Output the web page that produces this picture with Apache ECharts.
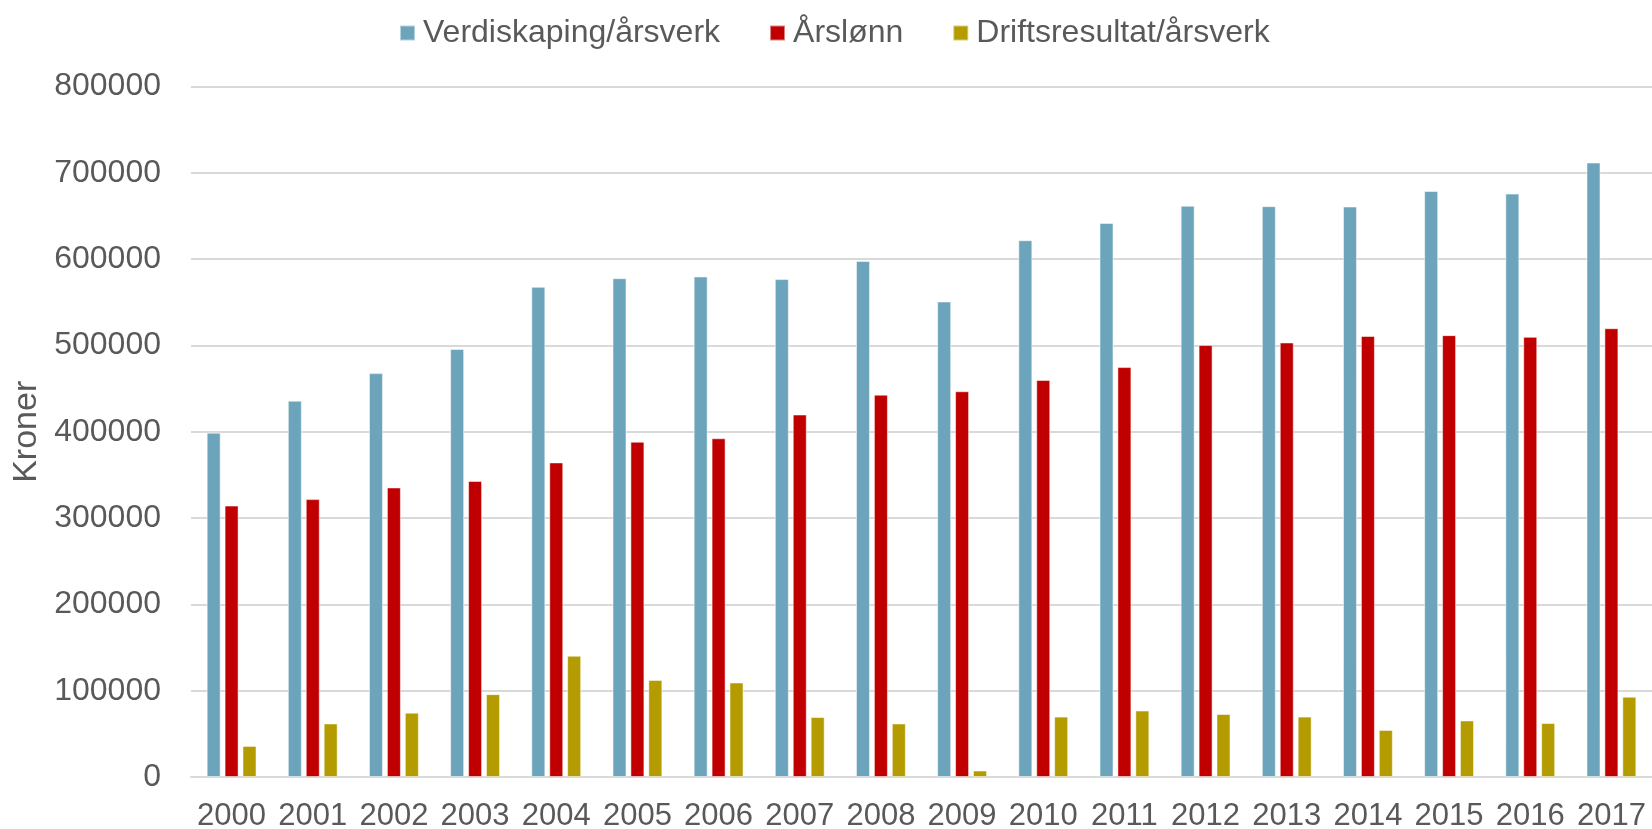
<!DOCTYPE html>
<html>
<head>
<meta charset="utf-8">
<script src="https://cdn.jsdelivr.net/npm/echarts@6/dist/echarts.min.js"></script>
<style>
  html, body { margin: 0; padding: 0; background: #fff; }
  #chart { width: 1652px; height: 829px; }
</style>
</head>
<body>
<div id="chart"></div>
<script>
var years = ['2000', '2001', '2002', '2003', '2004', '2005', '2006', '2007', '2008',
  '2009', '2010', '2011', '2012', '2013', '2014', '2015', '2016', '2017']
// Verdiskaping/årsverk
var verdiskaping = [399000, 436000, 468000, 496000, 568000, 578000, 580000, 577000, 598000,
  551000, 622000, 642000, 662000, 661500, 661000, 679000, 676000, 712000]
// Årslønn
var arslonn = [314500, 322000, 335500, 343000, 364500, 388500, 392500, 420000, 443000,
  447000, 460000, 475000, 500500, 503500, 511000, 512000, 510000, 520000]
// Driftsresultat/årsverk
var driftsresultat = [36000, 62000, 74500, 96000, 140500, 112500, 109500, 69500, 62000,
  7500, 70000, 77000, 73000, 70000, 54500, 65500, 62500, 93000]
var yTicks = [0, 100000, 200000, 300000, 400000, 500000, 600000, 700000, 800000]

var chart = echarts.init(document.getElementById('chart'))
var textColor = '#595959'
var font = 'Liberation Sans, Arial, sans-serif'

function barSeries(name, data, color) {
  return {
    name: name,
    type: 'bar',
    data: data,
    barWidth: 14,
    barGap: '28%',
    itemStyle: {
      color: color,
      borderColor: 'rgba(255,255,255,0.5)',
      borderWidth: 1
    }
  }
}

var option = {
  animation: false,
  textStyle: { fontFamily: font },
  legend: {
    top: 12,
    left: 394,
    itemWidth: 15,
    itemHeight: 15,
    itemGap: 49,
    icon: 'rect',
    textStyle: { color: textColor, fontSize: 32, fontFamily: font, padding: [0, 0, 0, 3] },
    data: ['Verdiskaping/årsverk', 'Årslønn', 'Driftsresultat/årsverk']
  },
  grid: {
    left: 191,
    right: 0,
    top: 86.6,
    bottom: 52,
    containLabel: false,
    outerBoundsMode: 'none'
  },
  xAxis: {
    type: 'category',
    data: years,
    axisTick: { show: false },
    axisLine: { lineStyle: { color: '#d9d9d9', width: 2 } },
    axisLabel: { color: textColor, fontSize: 31, margin: 24, interval: 0, fontFamily: font }
  },
  yAxis: {
    type: 'value',
    min: yTicks[0],
    max: yTicks[yTicks.length - 1],
    interval: 100000,
    name: 'Kroner',
    nameLocation: 'middle',
    nameGap: 140,
    nameRotate: 90,
    nameTextStyle: { color: textColor, fontSize: 34, fontFamily: font },
    axisLine: { show: false },
    axisTick: { show: false },
    axisLabel: {
      color: textColor,
      fontSize: 32,
      margin: 30,
      fontFamily: font,
      formatter: function (v) { return String(v) }
    },
    splitLine: { lineStyle: { color: '#d9d9d9', width: 2 } }
  },
  series: [
    barSeries('Verdiskaping/årsverk', verdiskaping, '#6ca5bb'),
    barSeries('Årslønn', arslonn, '#c00000'),
    barSeries('Driftsresultat/årsverk', driftsresultat, '#b39b00')
  ]
}
chart.setOption(option)
</script>
</body>
</html>
